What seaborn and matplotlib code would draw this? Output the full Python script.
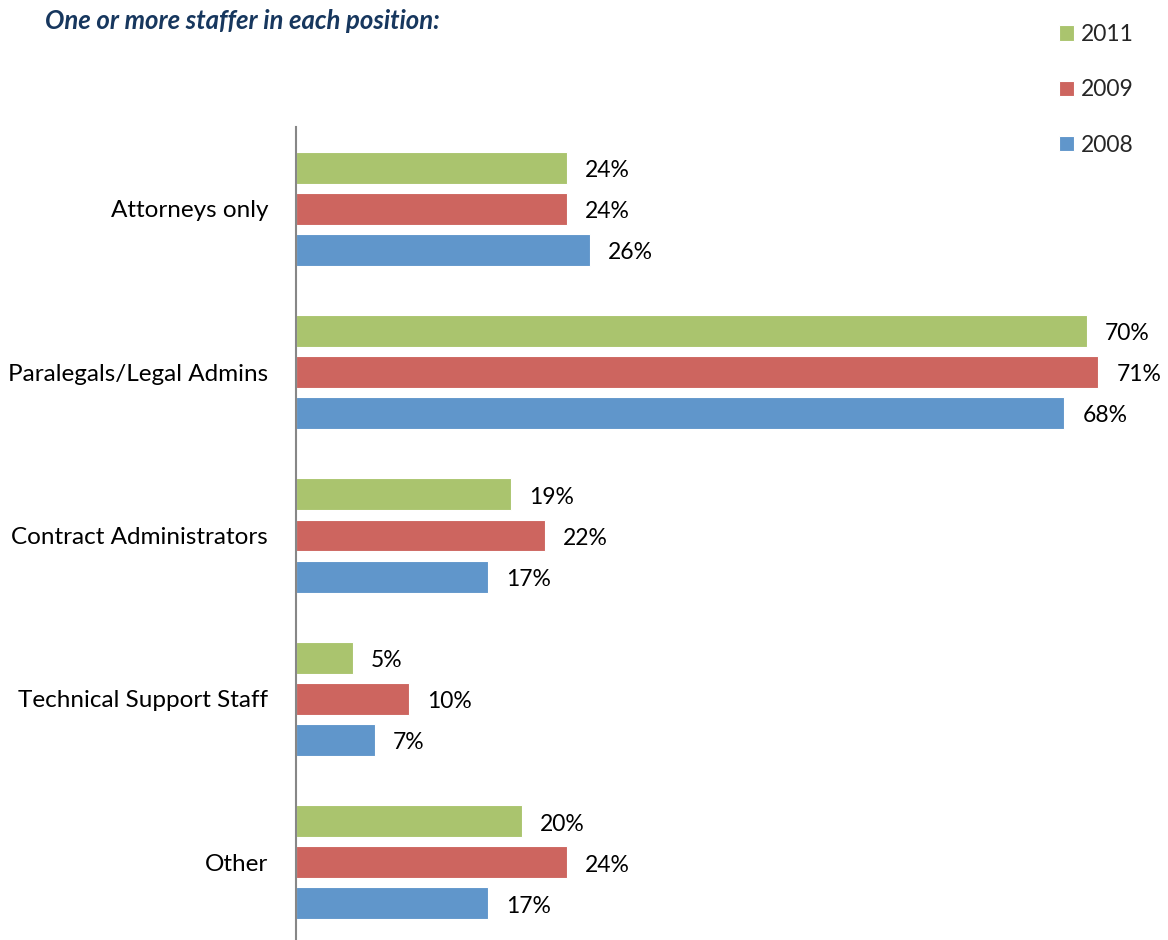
import matplotlib
matplotlib.use("Agg")
import matplotlib.pyplot as plt
import seaborn as sns
import pandas as pd

categories = ["Attorneys only", "Paralegals/Legal Admins", "Contract Administrators",
              "Technical Support Staff", "Other"]
years = ["2011", "2009", "2008"]
values_2011 = [24, 70, 19, 5, 20]
values_2009 = [24, 71, 22, 10, 24]
values_2008 = [26, 68, 17, 7, 17]
colors = ["#AAC46E", "#CD655F", "#6096CB"]
title = "One or more staffer in each position:"

rows = []
for yr, vals in zip(years, [values_2011, values_2009, values_2008]):
    for c, v in zip(categories, vals):
        rows.append({"category": c, "year": yr, "value": v})
df = pd.DataFrame(rows)

sns.set_style("white")
plt.rcParams["font.family"] = ["Lato", "DejaVu Sans"]

W, H = 1168, 940
fig = plt.figure(figsize=(W / 100, H / 100), dpi=100)
ax = fig.add_axes([296 / W, -4 / H, (W - 296) / W, 817 / H])

sns.barplot(data=df, y="category", x="value", hue="year", order=categories,
            hue_order=years, palette=colors, saturation=1, orient="h", width=0.753,
            gap=0.22, edgecolor="white", linewidth=0.8, ax=ax, legend=True)

for cont, yr in zip(ax.containers, years):
    texts = ax.bar_label(cont, labels=[f"{int(v)}%" for v in cont.datavalues],
                         padding=13, fontsize=16.5, color="black")
    for t in texts:
        x0, y0 = t.xyann
        t.xyann = (x0, y0 - 2)

ax.set_xlim(0, (W - 296) / 11.3)
ax.set_ylim(4.5, -0.5)
ax.set_xlabel("")
ax.set_ylabel("")
ax.set_xticks([])
ax.tick_params(axis="y", length=0, pad=20, labelsize=17.5, labelcolor="black")
for s in ["top", "right", "bottom"]:
    ax.spines[s].set_visible(False)
ax.spines["left"].set_color("#878787")
ax.spines["left"].set_linewidth(1.5)

handles, labels = ax.get_legend_handles_labels()
ax.get_legend().remove()
fig.legend(handles, labels, loc="upper left",
           bbox_to_anchor=(1059 / W, 1 - 24 / H), bbox_transform=fig.transFigure,
           frameon=False, fontsize=16.5, handlelength=0.65, handleheight=0.65,
           handletextpad=0.3, labelspacing=1.5, borderpad=0, borderaxespad=0)

fig.text(45 / W, 1 - 29 / H, title, fontsize=18.5, fontweight="bold", fontstyle="italic",
         color="#17375E", va="baseline", ha="left")

fig.savefig("out.png", dpi=100)
